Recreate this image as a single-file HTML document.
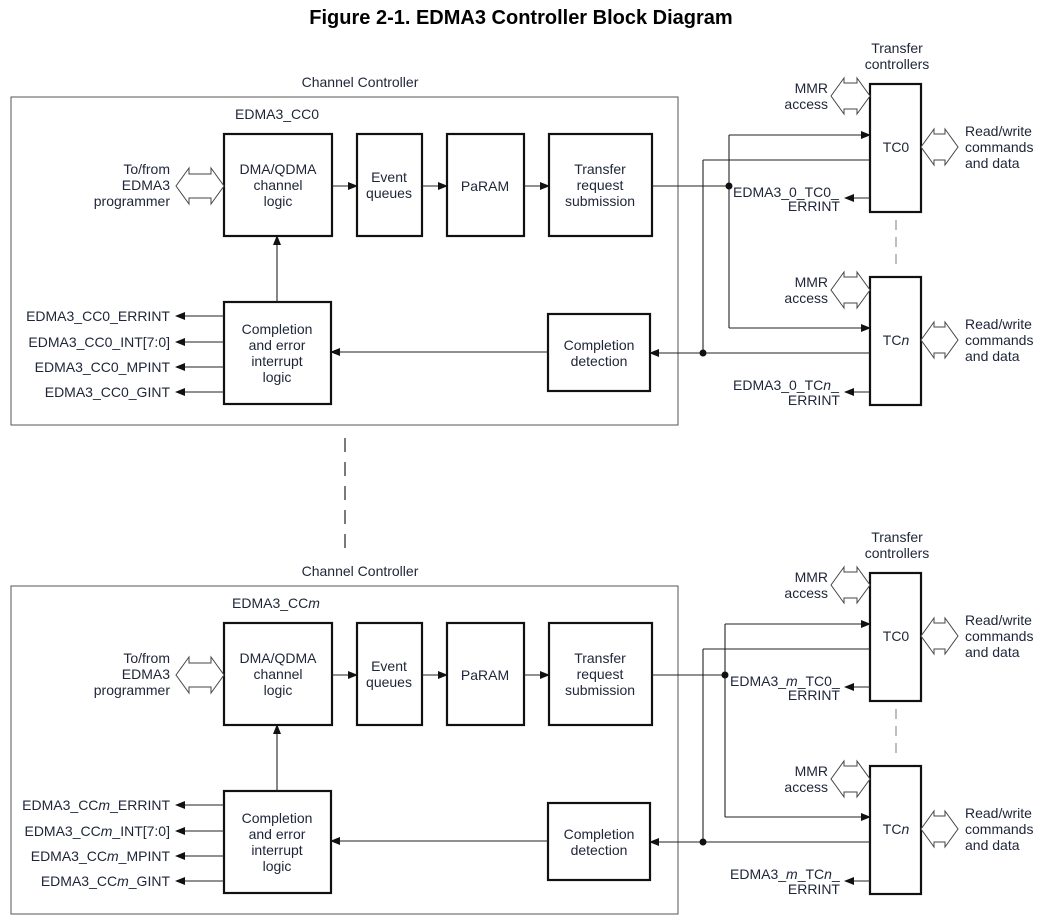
<!DOCTYPE html>
<html><head><meta charset="utf-8"><style>
html,body{margin:0;padding:0;background:#fff;}
svg{display:block;}
text{font-family:"Liberation Sans",sans-serif;font-size:14px;fill:#1e2538;}
.c{text-anchor:middle}.r{text-anchor:end}
</style></head><body>
<svg width="1045" height="920" viewBox="0 0 1045 920" xmlns="http://www.w3.org/2000/svg">
<defs>
<marker id="a" markerWidth="10" markerHeight="8" refX="9" refY="4" orient="auto" markerUnits="userSpaceOnUse"><path d="M0,0L10,4L0,8z" fill="#111"/></marker>
<g id="sec">
<rect x="11" y="97" width="667" height="328" fill="none" stroke="#555" stroke-width="1"/>
<g fill="none" stroke="#111" stroke-width="2.2">
<rect x="224" y="134" width="108" height="102"/>
<rect x="357" y="134" width="65" height="102"/>
<rect x="447" y="134" width="77" height="102"/>
<rect x="549" y="134" width="103" height="102"/>
<rect x="224" y="302" width="107" height="102"/>
<rect x="548" y="314" width="102" height="77"/>
<rect x="870" y="84" width="51" height="128"/>
<rect x="870" y="277" width="51" height="128"/>
</g>
<g fill="none" stroke="#222" stroke-width="1.1">
<line x1="332" y1="186" x2="357" y2="186" marker-end="url(#a)"/>
<line x1="422" y1="186" x2="447" y2="186" marker-end="url(#a)"/>
<line x1="524" y1="186" x2="549" y2="186" marker-end="url(#a)"/>
<line x1="277" y1="302" x2="277" y2="236" marker-end="url(#a)"/>
<line x1="548" y1="352" x2="331" y2="352" marker-end="url(#a)"/>
<line x1="224" y1="316" x2="176" y2="316" marker-end="url(#a)"/>
<line x1="224" y1="342" x2="176" y2="342" marker-end="url(#a)"/>
<line x1="224" y1="367" x2="176" y2="367" marker-end="url(#a)"/>
<line x1="224" y1="392" x2="176" y2="392" marker-end="url(#a)"/>
<line x1="870" y1="160" x2="703" y2="160"/>
<line x1="703" y1="160" x2="703" y2="353"/>
<line x1="870" y1="353" x2="650" y2="353" marker-end="url(#a)"/>
<line x1="870" y1="198" x2="845" y2="198" marker-end="url(#a)"/>
<line x1="870" y1="392" x2="845" y2="392" marker-end="url(#a)"/>
<line x1="896" y1="220" x2="896" y2="270" stroke="#888" stroke-dasharray="10,7"/>
</g>
<circle cx="703" cy="353" r="3.5" fill="#111"/>
<g fill="#fff" stroke="#444" stroke-width="1">
<polygon points="176,186 189,168 189,174 211,174 211,168 224,186 211,204 211,198 189,198 189,204"/>
<polygon points="831,96 844,78 844,83 857,83 857,78 870,96 857,114 857,109 844,109 844,114"/>
<polygon points="831,290 844,272 844,277 857,277 857,272 870,290 857,308 857,303 844,303 844,308"/>
<polygon points="921,147 934,129 934,134 945,134 945,129 958,147 945,165 945,160 934,160 934,165"/>
<polygon points="921,340 934,322 934,327 945,327 945,322 958,340 945,358 945,353 934,353 934,358"/>
</g>
<text class="c" x="360" y="87">Channel Controller</text>
<text class="c" x="897" y="53">Transfer</text>
<text class="c" x="897" y="69">controllers</text>
<text class="c" x="278" y="174">DMA/QDMA</text>
<text class="c" x="278" y="190">channel</text>
<text class="c" x="278" y="206">logic</text>
<text class="c" x="389" y="182">Event</text>
<text class="c" x="389" y="198">queues</text>
<text class="c" x="485" y="191">PaRAM</text>
<text class="c" x="600" y="174">Transfer</text>
<text class="c" x="600" y="190">request</text>
<text class="c" x="600" y="206">submission</text>
<text class="c" x="277" y="334">Completion</text>
<text class="c" x="277" y="350">and error</text>
<text class="c" x="277" y="366">interrupt</text>
<text class="c" x="277" y="382">logic</text>
<text class="c" x="599" y="350">Completion</text>
<text class="c" x="599" y="366">detection</text>
<text class="r" x="170" y="174">To/from</text>
<text class="r" x="170" y="190">EDMA3</text>
<text class="r" x="170" y="206">programmer</text>
<text class="c" x="896" y="152">TC0</text>
<text class="r" x="828" y="93">MMR</text>
<text class="r" x="828" y="109">access</text>
<text class="r" x="828" y="287">MMR</text>
<text class="r" x="828" y="303">access</text>
<text x="965" y="136">Read/write</text>
<text x="965" y="152">commands</text>
<text x="965" y="168">and data</text>
<text x="965" y="329">Read/write</text>
<text x="965" y="345">commands</text>
<text x="965" y="361">and data</text>
<text class="r" x="840" y="405">ERRINT</text>
<text class="r" x="840" y="211">ERRINT</text>
</g>
</defs>

<text class="c" x="521" y="24" style="font-size:20px;font-weight:bold;fill:#000">Figure 2-1. EDMA3 Controller Block Diagram</text>

<use href="#sec"/>
<g fill="none" stroke="#222" stroke-width="1.1">
<line x1="652" y1="186" x2="729" y2="186"/>
<line x1="729" y1="135" x2="729" y2="328"/>
<line x1="729" y1="135" x2="870" y2="135" marker-end="url(#a)"/>
<line x1="729" y1="328" x2="870" y2="328" marker-end="url(#a)"/>
</g>
<circle cx="729" cy="186" r="3.5" fill="#111"/>
<text x="235" y="119">EDMA3_CC0</text>
<text class="r" x="170" y="321">EDMA3_CC0_ERRINT</text>
<text class="r" x="170" y="347">EDMA3_CC0_INT[7:0]</text>
<text class="r" x="170" y="372">EDMA3_CC0_MPINT</text>
<text class="r" x="170" y="397">EDMA3_CC0_GINT</text>
<text class="c" x="896" y="345">TC<tspan font-style="italic">n</tspan></text>
<text x="733" y="197">EDMA3_0_TC0_</text>
<text x="733" y="390">EDMA3_0_TC<tspan font-style="italic">n</tspan>_</text>

<line x1="345" y1="438" x2="345" y2="548" stroke="#222" stroke-width="1.2" stroke-dasharray="14,10"/>

<g transform="translate(0,489)">
<use href="#sec"/>
<g fill="none" stroke="#222" stroke-width="1.1">
<line x1="652" y1="186" x2="725" y2="186"/>
<line x1="725" y1="135" x2="725" y2="328"/>
<line x1="725" y1="135" x2="870" y2="135" marker-end="url(#a)"/>
<line x1="725" y1="328" x2="870" y2="328" marker-end="url(#a)"/>
</g>
<circle cx="725" cy="186" r="3.5" fill="#111"/>
<text x="232" y="119">EDMA3_CC<tspan font-style="italic">m</tspan></text>
<text class="r" x="170" y="321">EDMA3_CC<tspan font-style="italic">m</tspan>_ERRINT</text>
<text class="r" x="170" y="347">EDMA3_CC<tspan font-style="italic">m</tspan>_INT[7:0]</text>
<text class="r" x="170" y="372">EDMA3_CC<tspan font-style="italic">m</tspan>_MPINT</text>
<text class="r" x="170" y="397">EDMA3_CC<tspan font-style="italic">m</tspan>_GINT</text>
<text class="c" x="896" y="345">TC<tspan font-style="italic">n</tspan></text>
<text x="730" y="197">EDMA3_<tspan font-style="italic">m</tspan>_TC0_</text>
<text x="730" y="390">EDMA3_<tspan font-style="italic">m</tspan>_TC<tspan font-style="italic">n</tspan>_</text>
</g>
</svg>
</body></html>
